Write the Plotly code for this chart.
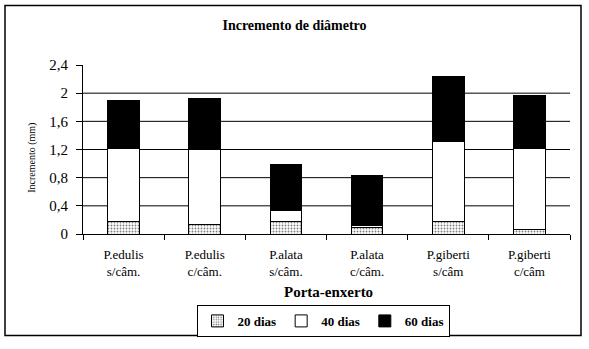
import plotly.graph_objects as go

categories = ["P.edulis<br>s/câm.", "P.edulis<br>c/câm.", "P.alata<br>s/câm.",
              "P.alata<br>c/câm.", "P.giberti<br>s/câm", "P.giberti<br>c/câm"]
dias20 = [0.18, 0.13, 0.18, 0.09, 0.18, 0.07]
dias40 = [1.04, 1.07, 0.15, 0.03, 1.13, 1.14]
dias60 = [0.68, 0.72, 0.65, 0.71, 0.92, 0.75]
ytickvals = [0, 0.4, 0.8, 1.2, 1.6, 2.0, 2.4]
yticktext = ["0", "0,4", "0,8", "1,2", "1,6", "2", "2,4"]
gridvals = [0.4, 0.8, 1.2, 1.6, 2.0]

FONT = "Liberation Serif"
line = dict(color="black", width=1)

fig = go.Figure()
fig.add_bar(x=categories, y=dias20, name="20 dias", width=0.39,
            marker=dict(color="white", line=line,
                        pattern=dict(shape=".", fgcolor="black", bgcolor="white",
                                     size=3, solidity=0.3)))
fig.add_bar(x=categories, y=dias40, name="40 dias", width=0.39,
            marker=dict(color="white", line=line))
fig.add_bar(x=categories, y=dias60, name="60 dias", width=0.39,
            marker=dict(color="black", line=line))

# plot area in pixels: x 83..570, y 65..238
L, R, T, B = 83, 570, 65, 238
W, H = 589, 349
pw, ph = R - L, B - T

def px(x):
    return (x - L) / pw

def py(y):
    return (B - y) / ph

shapes = [dict(type="line", xref="paper", yref="y", x0=0, x1=1, y0=g, y1=g,
               line=dict(color="black", width=1), layer="below") for g in gridvals]
shapes.append(dict(type="rect", xref="paper", yref="paper",
                   x0=px(5), x1=px(581), y0=py(342), y1=py(4),
                   line=dict(color="black", width=1.5), fillcolor="rgba(0,0,0,0)"))

fig.update_layout(
    width=W, height=H,
    margin=dict(l=L, r=W - R, t=T, b=H - B),
    paper_bgcolor="white", plot_bgcolor="white",
    barmode="stack", bargap=0.61,
    font=dict(family=FONT, color="black"),
    title=dict(text="<b>Incremento de diâmetro</b>", x=0.5, xanchor="center",
               y=1 - 25 / H, yanchor="middle", font=dict(size=14, family=FONT)),
    showlegend=True,
    legend=dict(orientation="h", x=px(323), xanchor="center", y=py(327), yanchor="middle",
                bordercolor="black", borderwidth=1, bgcolor="white",
                font=dict(size=13, family=FONT, weight="bold"), itemwidth=30,
                tracegroupgap=0, traceorder="normal"),
    shapes=shapes,
    annotations=[
        dict(text="<b>Porta-enxerto</b>", xref="paper", yref="paper", x=px(328), y=py(297),
             xanchor="center", yanchor="middle", showarrow=False, font=dict(size=15, family=FONT)),
        dict(text="Incremento (mm)", xref="paper", yref="paper", x=px(32), y=py(160),
             xanchor="center", yanchor="middle", textangle=-90, showarrow=False,
             font=dict(size=10, family=FONT)),
    ],
)
fig.update_xaxes(showline=True, linecolor="black", linewidth=1, ticks="outside",
                 tickson="boundaries", ticklen=5, tickcolor="black",
                 ticklabelstandoff=8,
                 tickfont=dict(size=13, family=FONT), showgrid=False)
fig.update_yaxes(range=[0, 2.4], tickvals=ytickvals, ticktext=yticktext,
                 showline=True, linecolor="black", linewidth=1, ticks="outside",
                 ticklen=6, tickcolor="black", showgrid=False, zeroline=False,
                 ticklabelstandoff=5,
                 tickfont=dict(size=15, family=FONT))

fig.write_html("out.html")
